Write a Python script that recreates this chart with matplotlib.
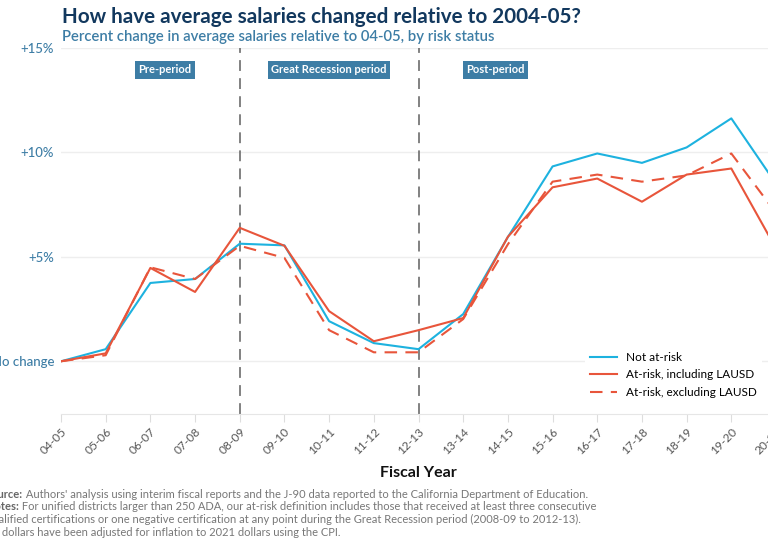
import matplotlib
matplotlib.use("Agg")
import matplotlib.pyplot as plt

plt.rcParams['font.family'] = ['Lato', 'DejaVu Sans']

years = ["04-05", "05-06", "06-07", "07-08", "08-09", "09-10", "10-11", "11-12",
         "12-13", "13-14", "14-15", "15-16", "16-17", "17-18", "18-19", "19-20", "20-21"]
not_at_risk = [0, 0.58, 3.75, 3.94, 5.63, 5.55, 1.92, 0.87, 0.58, 2.26, 5.95, 9.33,
               9.95, 9.5, 10.24, 11.63, 8.5]
at_risk_incl = [0, 0.38, 4.47, 3.32, 6.39, 5.53, 2.4, 0.96, 1.49, 2.07, 5.96, 8.33,
                8.75, 7.64, 8.94, 9.23, 5.4]
at_risk_excl = [0, 0.29, 4.5, 3.94, 5.53, 4.95, 1.49, 0.43, 0.43, 2.02, 5.6, 8.6,
                8.94, 8.6, 8.9, 9.95, 7.1]
y_ticks = [0, 5, 10, 15]
y_labels = ["No change", "+5%", "+10%", "+15%"]
periods = ["Pre-period", "Great Recession period", "Post-period"]
period_x = [2.33, 6.0, 9.72]
period_breaks = [4, 8]

BLUE = "#1DB2DF"
RED = "#E8553B"
NAVY = "#12385E"
STEEL = "#3D7DA5"

fig = plt.figure(figsize=(7.68, 5.38), dpi=100)
ax = fig.add_axes([61/768, 1 - 413.5/538, 715/768, (413.5 - 48)/538])

x = list(range(len(years)))
ax.plot(x, not_at_risk, color=BLUE, lw=1.5, label="Not at-risk", zorder=3)
ax.plot(x, at_risk_incl, color=RED, lw=1.5, label="At-risk, including LAUSD", zorder=3)
ax.plot(x, at_risk_excl, color=RED, lw=1.5, ls=(0, (6, 4)), label="At-risk, excluding LAUSD", zorder=3)

for b in period_breaks:
    ax.axvline(b, color="#777777", lw=1.3, ls=(0, (6, 4)), zorder=2, clip_on=False)

for lbl, px in zip(periods, period_x):
    ax.text(px, 13.95, lbl, ha="center", va="center", color="white", fontsize=8,
            fontweight="bold",
            bbox=dict(boxstyle="square,pad=0.3", fc=STEEL, ec="none"))

ax.set_xlim(0, 16)
ax.set_ylim(-2.5, 15)
ax.set_yticks(y_ticks)
ax.set_yticklabels(y_labels, color=STEEL, fontsize=9.5, fontweight="medium")
ax.set_xticks(x)
ax.set_xticklabels(years, rotation=45, ha="right", rotation_mode="anchor",
                   fontsize=8.6, color="#555555")
ax.tick_params(axis="y", length=0, pad=5)
ax.tick_params(axis="x", length=6, color="#dddddd", pad=3)
ax.grid(axis="y", color="#eeeeee", lw=1)
ax.set_axisbelow(True)
for s in ["top", "right", "left"]:
    ax.spines[s].set_visible(False)
ax.spines["bottom"].set_color("#e6e6e6")

ax.set_xlabel("Fiscal Year", fontsize=11.5, fontweight="bold", color="#111111", labelpad=7)

leg = ax.legend(loc="lower right", bbox_to_anchor=(0.985, 0.02), frameon=True,
                fontsize=8.5, handlelength=2.3, borderaxespad=0.3, labelspacing=0.55)
leg.get_frame().set_facecolor("white")
leg.get_frame().set_edgecolor("none")
leg.get_frame().set_alpha(1)

fig.text(62/768, 1 - 17/538, "How have average salaries changed relative to 2004-05?",
         fontsize=14.9, fontweight="bold", color=NAVY, ha="left", va="center")
fig.text(62/768, 1 - 37/538, "Percent change in average salaries relative to 04-05, by risk status",
         fontsize=10.75, fontweight="semibold", color=STEEL, ha="left", va="center")

notes = [
    ("Source:", " Authors' analysis using interim fiscal reports and the J-90 data reported to the California Department of Education."),
    ("Notes:", " For unified districts larger than 250 ADA, our at-risk definition includes those that received at least three consecutive"),
    ("", "qualified certifications or one negative certification at any point during the Great Recession period (2008-09 to 2012-13)."),
    ("", "All dollars have been adjusted for inflation to 2021 dollars using the CPI."),
]
y0 = 494
for i, (b, t) in enumerate(notes):
    yy = 1 - (y0 + i * 12.7) / 538
    if b:
        tb = fig.text(-14/768, yy, b, fontsize=8, fontweight="bold", color="#666666",
                      ha="left", va="center")
        fig.canvas.draw()
        bb = tb.get_window_extent()
        fig.text(bb.x1 / 768, yy, t, fontsize=8, color="#777777", ha="left", va="center")
    else:
        fig.text(-14/768, yy, t, fontsize=8, color="#777777", ha="left", va="center")

fig.savefig("out.png", dpi=100)
